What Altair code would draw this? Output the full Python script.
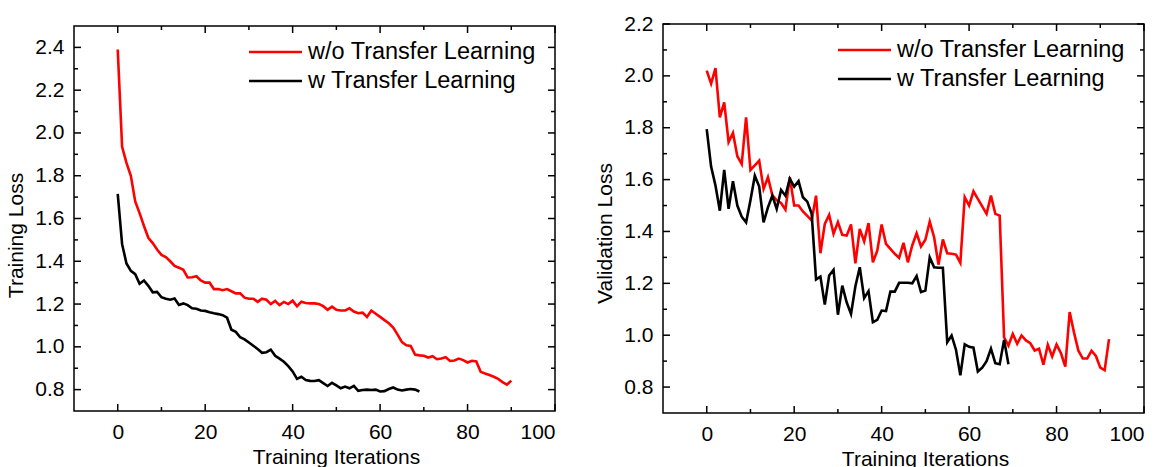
import altair as alt
import pandas as pd

# ---- data -------------------------------------------------------------
series_names = ["w/o Transfer Learning", "w Transfer Learning"]
series_colors = ["#ff0000", "#000000"]

# training loss per iteration
train_wo = [2.39, 1.935, 1.86, 1.80, 1.68, 1.625, 1.565, 1.51, 1.485, 1.455,
            1.43, 1.42, 1.40, 1.378, 1.37, 1.36, 1.324, 1.325, 1.33, 1.31,
            1.30, 1.30, 1.27, 1.27, 1.265, 1.27, 1.26, 1.25, 1.25, 1.23,
            1.225, 1.225, 1.21, 1.225, 1.22, 1.20, 1.215, 1.195, 1.21, 1.20,
            1.216, 1.19, 1.211, 1.205, 1.203, 1.203, 1.20, 1.19, 1.173, 1.188,
            1.173, 1.17, 1.17, 1.18, 1.165, 1.157, 1.16, 1.14, 1.17, 1.155,
            1.14, 1.125, 1.11, 1.09, 1.057, 1.022, 1.007, 1.004, 0.964, 0.96,
            0.958, 0.95, 0.956, 0.942, 0.945, 0.951, 0.934, 0.936, 0.945, 0.938,
            0.927, 0.935, 0.932, 0.883, 0.875, 0.868, 0.86, 0.85, 0.835, 0.823,
            0.842]
train_w = [1.715, 1.48, 1.39, 1.355, 1.34, 1.295, 1.31, 1.285, 1.255, 1.257,
           1.232, 1.225, 1.22, 1.226, 1.196, 1.203, 1.195, 1.18, 1.178, 1.17,
           1.168, 1.162, 1.157, 1.153, 1.148, 1.136, 1.08, 1.07, 1.045, 1.035,
           1.02, 1.005, 0.99, 0.972, 0.975, 0.987, 0.958, 0.945, 0.93, 0.91,
           0.885, 0.85, 0.86, 0.845, 0.841, 0.84, 0.844, 0.83, 0.817, 0.832,
           0.82, 0.806, 0.814, 0.806, 0.817, 0.794, 0.798, 0.80, 0.798, 0.80,
           0.791, 0.793, 0.803, 0.81, 0.80, 0.796, 0.80, 0.803, 0.80, 0.791]

# validation loss per iteration
val_wo = [2.02, 1.97, 2.03, 1.84, 1.898, 1.745, 1.78, 1.69, 1.66, 1.84,
          1.637, 1.655, 1.673, 1.564, 1.609, 1.54, 1.52, 1.51, 1.484, 1.609,
          1.50, 1.50, 1.477, 1.46, 1.442, 1.538, 1.316, 1.429, 1.464, 1.391,
          1.436, 1.387, 1.384, 1.427, 1.277, 1.41, 1.362, 1.432, 1.281, 1.326,
          1.427, 1.352, 1.333, 1.314, 1.298, 1.356, 1.281, 1.346, 1.393, 1.342,
          1.368, 1.438, 1.378, 1.272, 1.369, 1.316, 1.314, 1.311, 1.279, 1.532,
          1.50, 1.555, 1.526, 1.497, 1.468, 1.538, 1.468, 1.461, 0.992, 0.96,
          1.005, 0.967, 0.999, 0.98, 0.969, 0.941, 0.948, 0.886, 0.963, 0.918,
          0.964, 0.931, 0.879, 1.089, 1.01, 0.94, 0.91, 0.91, 0.94, 0.92,
          0.875, 0.865, 0.985]
val_w = [1.795, 1.65, 1.577, 1.48, 1.637, 1.487, 1.594, 1.50, 1.457, 1.435,
         1.52, 1.615, 1.573, 1.435, 1.493, 1.538, 1.487, 1.56, 1.538, 1.603,
         1.573, 1.594, 1.532, 1.515, 1.468, 1.215, 1.226, 1.118, 1.23, 1.252,
         1.079, 1.191, 1.127, 1.082, 1.189, 1.262, 1.143, 1.17, 1.05, 1.059,
         1.095, 1.093, 1.168, 1.168, 1.202, 1.202, 1.202, 1.20, 1.228, 1.166,
         1.172, 1.30, 1.262, 1.26, 1.26, 0.973, 0.999, 0.944, 0.845, 0.965,
         0.955, 0.952, 0.86, 0.875, 0.90, 0.948, 0.892, 0.888, 0.982, 0.888]

x_major = [0, 20, 40, 60, 80, 100]
x_minor = [10, 30, 50, 70, 90]
train_y_major = [0.8, 1.0, 1.2, 1.4, 1.6, 1.8, 2.0, 2.2, 2.4]
train_y_minor = [0.9, 1.1, 1.3, 1.5, 1.7, 1.9, 2.1, 2.3]
val_y_major = [0.8, 1.0, 1.2, 1.4, 1.6, 1.8, 2.0, 2.2]
val_y_minor = [0.9, 1.1, 1.3, 1.5, 1.7, 1.9, 2.1]

FONT = "Liberation Sans"
W = 481


def long_frame(a, b):
    rows = []
    for name, vals in zip(series_names, (a, b)):
        for i, v in enumerate(vals):
            rows.append({"iteration": i, "loss": v, "series": name})
    return pd.DataFrame(rows)


def panel(a, b, y_domain, y_major, y_minor, y_title, height):
    xs = alt.Scale(domain=[-10, 100], nice=False, zero=False)
    ys = alt.Scale(domain=y_domain, nice=False, zero=False)
    x_axis = alt.Axis(values=x_major, format="d", title="Training Iterations",
                      grid=False, domain=False, ticks=False, tickSize=0,
                      labelPadding=10, titlePadding=4, titleX=262,
                      titleAlign="center", titleAnchor="start")
    y_axis = alt.Axis(values=y_major, format=".1f", title=y_title,
                      grid=False, domain=False, ticks=False, tickSize=0,
                      labelPadding=10, titlePadding=8, titleY=209)

    def X(field="iteration"):
        return alt.X(f"{field}:Q", scale=xs, axis=x_axis)

    def Y(field="loss"):
        return alt.Y(f"{field}:Q", scale=ys, axis=y_axis)

    lines = alt.Chart(long_frame(a, b)).mark_line(strokeWidth=2.6).encode(
        x=X(), y=Y(),
        color=alt.Color("series:N",
                        scale=alt.Scale(domain=series_names, range=series_colors),
                        legend=None),
    )

    layers = [lines]
    # inward ticks on all four sides of the frame
    for vals, ln in ((y_major, 7), (y_minor, 4)):
        d = pd.DataFrame({"loss": vals})
        layers.append(alt.Chart(d).mark_rule(color="black", strokeWidth=1.5).encode(
            y=Y(), x=alt.value(0), x2=alt.value(ln)))
        layers.append(alt.Chart(d).mark_rule(color="black", strokeWidth=1.5).encode(
            y=Y(), x=alt.value(W - ln), x2=alt.value(W)))
    for vals, ln in ((x_major, 7), (x_minor, 4)):
        d = pd.DataFrame({"iteration": vals})
        layers.append(alt.Chart(d).mark_rule(color="black", strokeWidth=1.5).encode(
            x=X(), y=alt.value(0), y2=alt.value(ln)))
        layers.append(alt.Chart(d).mark_rule(color="black", strokeWidth=1.5).encode(
            x=X(), y=alt.value(height - ln), y2=alt.value(height)))

    # legend box in the upper right
    for k, (name, col) in enumerate(zip(series_names, series_colors)):
        yy = 26 + 29 * k
        d = pd.DataFrame({"label": [name]})
        layers.append(alt.Chart(d).mark_rule(color=col, strokeWidth=2.6).encode(
            x=alt.value(175), x2=alt.value(228), y=alt.value(yy)))
        layers.append(alt.Chart(d).mark_text(
            align="left", baseline="middle", fontSize=23.5, font=FONT, color="black"
        ).encode(x=alt.value(234), y=alt.value(yy), text="label:N"))

    return alt.layer(*layers).properties(width=W, height=height)


left = panel(train_wo, train_w, [0.7, 2.5], train_y_major, train_y_minor,
             "Training Loss", 385)
right = panel(val_wo, val_w, [0.7, 2.2], val_y_major, val_y_minor,
              "Validation Loss", 389)

chart = alt.hconcat(left, right, spacing=108, bounds="flush", center=True).resolve_scale(
    x="independent", y="independent"
).configure_view(
    stroke="black", strokeWidth=1.5
).configure_axis(
    labelFont=FONT, labelFontSize=21, labelColor="black",
    titleFont=FONT, titleFontSize=21, titleFontWeight="normal", titleColor="black",
).properties(
    padding={"left": 5, "top": 12, "right": 5, "bottom": 0},
    background="white",
)

chart.save("out.html", embed_options={"renderer": "svg", "actions": False})
